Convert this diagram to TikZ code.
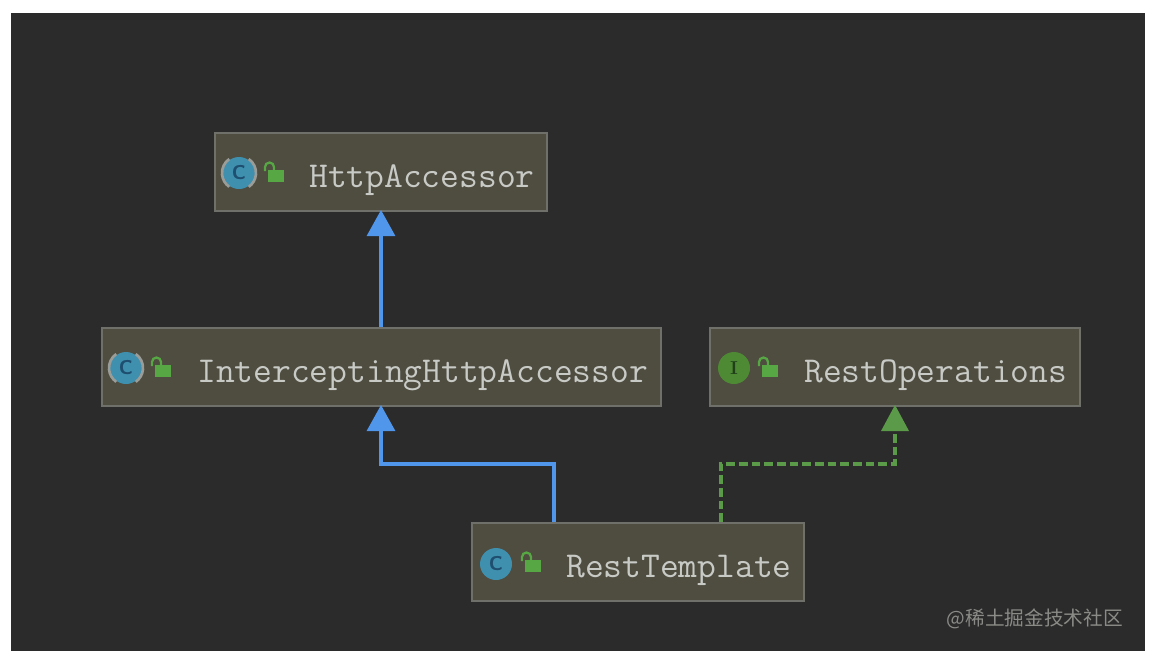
\documentclass[tikz,border=0pt]{standalone}
\usepackage{fontspec}
\newfontfamily\cjk{Noto Sans CJK SC}
\usetikzlibrary{arrows.meta}
\definecolor{panel}{HTML}{2B2B2B}
\definecolor{boxfill}{HTML}{4F4C40}
\definecolor{boxline}{HTML}{70706A}
\definecolor{inkblue}{HTML}{5096EA}
\definecolor{inkgreen}{HTML}{5B9A48}
\definecolor{labeltext}{HTML}{C8CAC6}
\definecolor{ccirc}{HTML}{3F90AE}
\definecolor{cletter}{HTML}{1F4F70}
\definecolor{icirc}{HTML}{4E8A34}
\definecolor{iletter}{HTML}{20401A}
\definecolor{lockgreen}{HTML}{57A845}
\definecolor{marksgray}{HTML}{9A9C98}
\definecolor{mark}{HTML}{8A8A86}
\tikzset{
  x=0.75pt,y=-0.75pt,
  classbox/.style={draw=boxline,line width=1.7pt,fill=boxfill,minimum height=58.5pt,inner sep=0pt,anchor=north west},
  classname/.style={text=labeltext,font=\fontsize{27.35pt}{28pt}\ttfamily,inner sep=0pt,anchor=base west},
  iconletter/.style={font=\fontsize{15pt}{15pt}\sffamily\bfseries,inner sep=0pt},
  ifaceletter/.style={font=\fontsize{14pt}{14pt}\rmfamily\bfseries,inner sep=0pt},
  inherit/.style={draw=inkblue,line width=2.3pt,-{Triangle[length=19.5pt,width=21pt,fill=inkblue]}},
  implement/.style={draw=inkgreen,line width=2.3pt,dash pattern=on 6.5pt off 3pt,-{Triangle[length=19.5pt,width=21pt,fill=inkgreen,line width=0pt]}},
  wmark/.style={text=mark,font=\fontsize{14.75pt}{16pt}\cjk,inner sep=0pt,anchor=east},
}
\newcommand{\lockicon}[2]{%
  \fill[lockgreen] (#1-2,#2-2) rectangle (#1+14,#2+10);
  \draw[lockgreen,line width=1.7pt] (#1-5,#2-1) -- (#1-5,#2-5) arc[start angle=180,end angle=360,radius=4.5] -- (#1+4,#2-2);
}
\newcommand{\classicon}[3]{%
  \fill[#3] (#1,#2) circle[radius=12pt];
}
\newcommand{\abstractmarks}[2]{%
  \draw[marksgray,line width=2pt] (#1-9.75,#2-14) arc[start angle=235,end angle=125,radius=17];
  \draw[marksgray,line width=2pt] (#1+9.75,#2-14) arc[start angle=-55,end angle=55,radius=17];
}
\begin{document}
\begin{tikzpicture}
\useasboundingbox (0,0) rectangle (1162,668);
\fill[white] (0,0) rectangle (1162,668);
\fill[panel] (11,13) rectangle (1145,651);

\node[classbox,minimum width=249.5pt] (ha) at (213.5,131.5) {};
\node[classbox,minimum width=419.5pt] (iha) at (100.5,326.5) {};
\node[classbox,minimum width=278pt] (ro) at (708.5,326.5) {};
\node[classbox,minimum width=249.5pt] (rt) at (470.5,521.5) {};

\coordinate (haS) at (381,210);
\coordinate (ihaN) at (381,327);
\coordinate (ihaS) at (381,405);
\coordinate (roS) at (895,405);
\coordinate (rtL) at (554,522);
\coordinate (rtR) at (721,522);

\draw[inherit] (ihaN) -- (haS);
\draw[inherit] (rtL) -- (rtL |- 0,464) -- (ihaS |- 0,464) -- (ihaS);
\draw[implement] (rtR) -- (rtR |- 0,464) -- (roS |- 0,464) -- (roS);

\node[classname] (t1) at (309,187) {HttpAccessor};
\node[classname] (t2) at (197,382) {InterceptingHttpAccessor};
\node[classname] (t3) at (804,382) {RestOperations};
\node[classname] (t4) at (566,577) {RestTemplate};

\classicon{239}{173}{ccirc}
\abstractmarks{239}{173}
\node[iconletter,text=cletter] (c1) at (239,173) {C};
\lockicon{270}{172}
\classicon{126}{368}{ccirc}
\abstractmarks{126}{368}
\node[iconletter,text=cletter] (c2) at (126,368) {C};
\lockicon{157}{367}
\classicon{734}{368}{icirc}
\node[ifaceletter,text=iletter] (c3) at (734,368) {I};
\lockicon{764}{367}
\classicon{496}{564}{ccirc}
\node[iconletter,text=cletter] (c4) at (496,564) {C};
\lockicon{527}{562}

\node[wmark] (wm) at (1123,619) {@稀土掘金技术社区};
\end{tikzpicture}
\end{document}
